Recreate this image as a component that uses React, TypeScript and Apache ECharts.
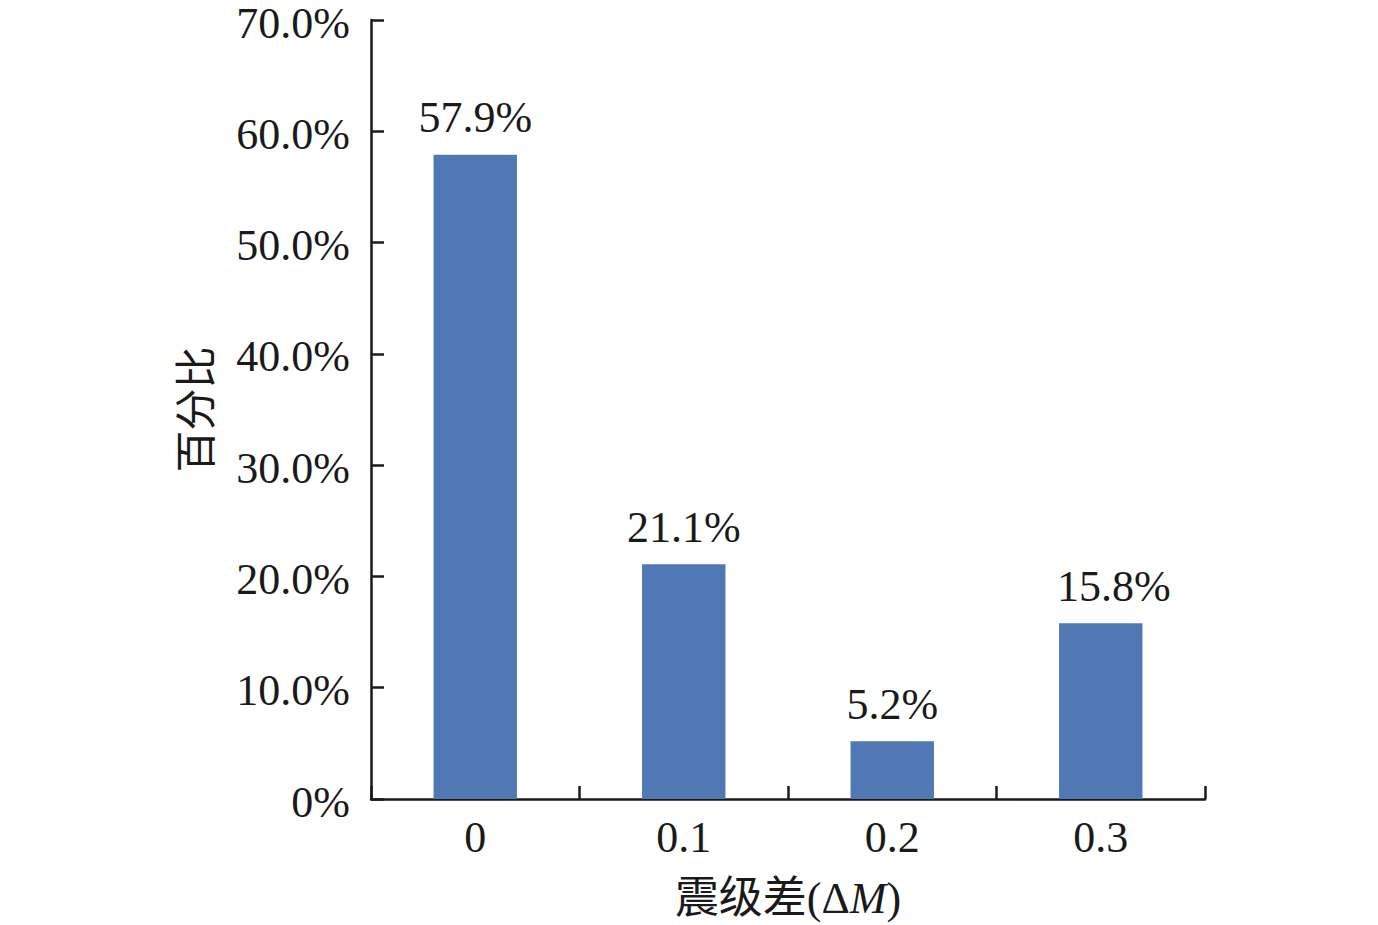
import React, { useEffect, useRef } from "react";
import * as echarts from "echarts";

const categories = ["0", "0.1", "0.2", "0.3"];
const percentages = [57.9, 21.1, 5.2, 15.8];

const FONT = "'Liberation Serif', 'Times New Roman', 'Noto Sans CJK SC', serif";
const INK = "#1a1a1a";
const FS = 44;

export default function App() {
  const ref = useRef<HTMLDivElement>(null);
  useEffect(() => {
    if (!ref.current) return;
    const chart = echarts.init(ref.current, null, { renderer: "svg" });
    chart.setOption({
      animation: false,
      backgroundColor: "#ffffff",
      grid: {
        left: 371,
        right: 173,
        top: 20,
        bottom: 126,
        containLabel: false,
        outerBoundsMode: "none",
      },
      xAxis: {
        type: "category",
        data: categories,
        name: "{n|震级差(Δ}{i|M}{n|)}",
        nameLocation: "middle",
        nameGap: 77,
        nameTextStyle: {
          rich: {
            n: { fontFamily: FONT, fontSize: FS, color: INK },
            i: { fontFamily: FONT, fontSize: FS, color: INK, fontStyle: "italic" },
          },
        },
        axisLine: { show: true, lineStyle: { color: INK, width: 2.5 } },
        axisTick: {
          show: true,
          interval: 0,
          inside: true,
          length: 13,
          lineStyle: { color: INK, width: 2.5 },
        },
        axisLabel: { fontFamily: FONT, fontSize: FS, color: INK, margin: 16 },
      },
      yAxis: {
        type: "value",
        min: 0,
        max: 70,
        interval: 10,
        name: "百分比",
        nameLocation: "middle",
        nameGap: 153,
        nameTextStyle: { fontFamily: FONT, fontSize: 42, color: INK },
        axisLine: { show: true, lineStyle: { color: INK, width: 2.5 } },
        axisTick: { show: true, inside: true, length: 13, lineStyle: { color: INK, width: 2.5 } },
        splitLine: { show: false },
        axisLabel: {
          margin: 21,
          formatter: (v: number) => "{v|" + (v === 0 ? "0%" : v.toFixed(1) + "%") + "}",
          rich: {
            v: {
              fontFamily: FONT,
              fontSize: FS,
              lineHeight: 24,
              color: INK,
              padding: [6, 0, 0, 0],
            },
          },
        },
      },
      series: [
        {
          type: "bar",
          data: percentages.map((v, i) =>
            i === percentages.length - 1 ? { value: v, label: { offset: [13, 0] } } : v
          ),
          barWidth: "40%",
          itemStyle: { color: "#4F78B5" },
          label: {
            show: true,
            position: "top",
            distance: 15,
            fontFamily: FONT,
            fontSize: FS,
            color: INK,
            formatter: (p: any) => Number(p.value).toFixed(1) + "%",
          },
        },
      ],
    });
    return () => chart.dispose();
  }, []);
  return (
    <div
      ref={ref}
      style={{ position: "fixed", left: 0, top: 0, width: 1378, height: 925 }}
    />
  );
}
